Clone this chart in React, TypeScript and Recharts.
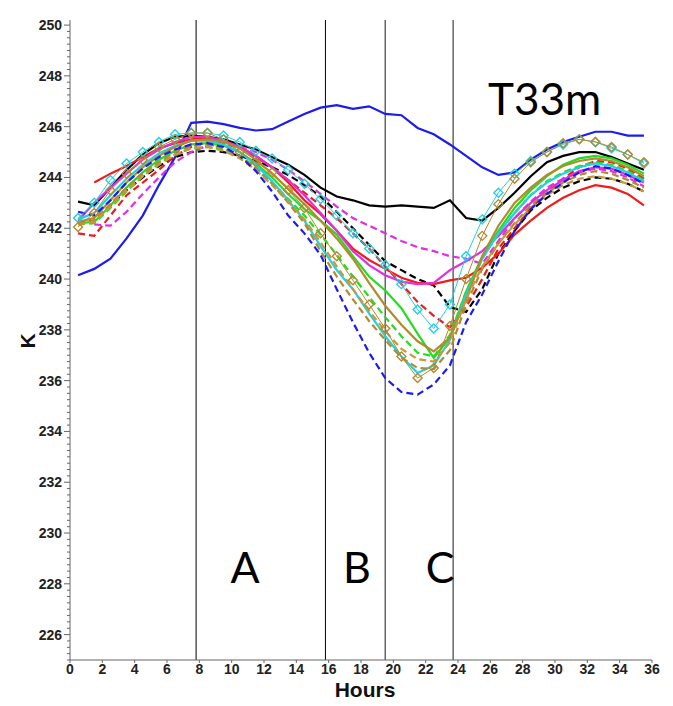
import React from "react";
import { LineChart, Line, XAxis, YAxis, ReferenceLine } from "recharts";

// hourly samples, mid-hour
const hours = [
  0.5, 1.5, 2.5, 3.5, 4.5, 5.5, 6.5, 7.5, 8.5, 9.5, 10.5, 11.5,
  12.5, 13.5, 14.5, 15.5, 16.5, 17.5, 18.5, 19.5, 20.5, 21.5, 22.5, 23.5,
  24.5, 25.5, 26.5, 27.5, 28.5, 29.5, 30.5, 31.5, 32.5, 33.5, 34.5, 35.5,
];

const blueSolid = [
  240.15, 240.4, 240.8, 241.6, 242.5, 243.7, 244.8, 246.15, 246.2, 246.1, 245.95, 245.85,
  245.9, 246.2, 246.5, 246.75, 246.85, 246.7, 246.8, 246.5, 246.45, 245.95, 245.7, 245.3,
  244.85, 244.4, 244.1, 244.2, 244.7, 245.1, 245.4, 245.6, 245.8, 245.8, 245.65, 245.65,
];
const blackSolid = [
  243.05, 242.9, 243.6, 244.3, 244.9, 245.35, 245.6, 245.65, 245.6, 245.5, 245.3, 245.1,
  244.8, 244.5, 244.1, 243.6, 243.25, 243.1, 242.9, 242.85, 242.9, 242.85, 242.8, 243.1,
  242.4, 242.3, 242.8, 243.4, 244.05, 244.6, 244.85, 245.0, 245.0, 244.8, 244.55, 244.3,
];
const blackDashed = [
  242.2, 242.3, 242.9, 243.5, 244.0, 244.45, 244.8, 245.0, 245.05, 245.0, 244.85, 244.65,
  244.4, 244.1, 243.7, 243.25, 242.65, 242.0, 241.35, 240.7, 240.35, 240.0, 239.75, 238.9,
  238.7, 239.6, 241.0, 241.9, 242.7, 243.2, 243.6, 243.85, 244.0, 243.95, 243.75, 243.45,
];
const redSolid = [
  null, 243.8, 244.15, 244.45, 244.8, 245.15, 245.35, 245.5, 245.55, 245.45, 245.2, 244.85,
  244.4, 243.8, 243.1, 242.55, 241.9, 241.2, 240.75, 240.4, 240.05, 239.85, 239.8, 239.95,
  240.05, 240.45, 241.0, 241.75, 242.3, 242.8, 243.2, 243.5, 243.7, 243.6, 243.35, 242.9,
];
const redDashed = [
  241.8, 241.7, 242.5, 243.3, 243.8, 244.3, 244.85, 245.2, 245.4, 245.35, 245.15, 244.8,
  244.4, 243.9, 243.4, 242.9, 242.4, 241.8, 241.2, 240.5, 239.8, 239.1, 238.55, 238.1,
  238.9, 240.0, 241.2, 242.0, 242.8, 243.4, 243.95, 244.4, 244.65, 244.6, 244.35, 243.95,
];
const magentaSolid = [
  242.3, 243.0, 243.6, 244.15, 244.7, 245.1, 245.4, 245.6, 245.6, 245.45, 245.2, 244.85,
  244.4, 243.9, 243.3, 242.6, 241.9, 241.1, 240.55, 240.15, 239.9, 239.8, 239.85, 240.35,
  240.7, 241.1, 241.7, 242.4, 243.0, 243.5, 243.9, 244.25, 244.4, 244.35, 244.1, 243.8,
];
const magentaDashed = [
  null, 242.15, 242.1, 242.65, 243.35, 244.0, 244.6, 245.0, 245.25, 245.3, 245.2, 245.0,
  244.7, 244.3, 243.85, 243.35, 242.85, 242.4, 242.1, 241.8, 241.5, 241.25, 241.1, 240.9,
  240.8, 240.6, 241.5, 242.4, 243.05, 243.6, 243.95, 244.2, 244.35, 244.25, 244.0, 243.65,
];
const greenSolid = [
  242.2, 242.25, 242.9, 243.6, 244.2, 244.7, 245.05, 245.3, 245.35, 245.25, 245.0, 244.55,
  244.0, 243.35, 242.75, 242.3, 241.75, 240.9, 240.1, 239.55, 238.85, 237.85, 236.9, 237.7,
  239.5, 240.9, 241.9, 242.8, 243.5, 244.05, 244.5, 244.75, 244.85, 244.75, 244.5, 244.15,
];
const greenDashed = [
  242.15, 242.2, 242.8, 243.45, 244.05, 244.55, 244.9, 245.15, 245.2, 245.1, 244.85, 244.4,
  243.8, 243.15, 242.5, 241.75, 240.95, 240.1, 239.3, 238.5, 237.75, 237.1, 236.95, 237.8,
  239.5, 240.8, 241.8, 242.6, 243.3, 243.85, 244.2, 244.45, 244.6, 244.5, 244.25, 243.9,
];
const cyanSolid = [
  242.35, 242.6, 243.3, 243.95, 244.5, 244.95, 245.25, 245.45, 245.45, 245.3, 245.0, 244.5,
  243.85, 243.1, 242.3, 241.3, 240.35, 239.6, 238.65, 237.75, 236.95, 236.3, 236.6, 237.6,
  239.4, 240.8, 241.8, 242.6, 243.3, 243.8, 244.15, 244.4, 244.55, 244.45, 244.2, 243.85,
];
const oliveSolid = [
  242.25, 242.4, 243.1, 243.8, 244.4, 244.85, 245.2, 245.45, 245.5, 245.4, 245.15, 244.7,
  244.15, 243.55, 242.95, 242.3, 241.6, 240.8, 239.85, 238.95, 238.2, 237.55, 237.15, 237.7,
  239.2, 240.9, 242.1, 243.0, 243.6, 244.1, 244.45, 244.65, 244.75, 244.65, 244.4, 244.05,
];
const oliveDashed = [
  242.2, 242.3, 242.95, 243.6, 244.15, 244.6, 245.0, 245.25, 245.3, 245.15, 244.85, 244.35,
  243.75, 243.0, 242.2, 241.1, 240.1, 239.2, 238.35, 237.6, 236.9, 236.5, 236.45, 237.2,
  239.0, 240.4, 241.4, 242.2, 242.9, 243.4, 243.8, 244.1, 244.25, 244.15, 243.9, 243.6,
];
const oliveDashed2 = [
  242.15, 242.25, 242.85, 243.5, 244.05, 244.5, 244.9, 245.15, 245.2, 245.05, 244.75, 244.3,
  243.7, 243.05, 242.35, 241.45, 240.5, 239.6, 238.75, 237.95, 237.25, 236.85, 236.75, 237.5,
  239.2, 240.5, 241.4, 242.15, 242.8, 243.3, 243.7, 243.95, 244.05, 243.95, 243.75, 243.45,
];
const blueDashed = [
  242.65, 242.5, 243.1, 243.8, 244.35, 244.8, 245.1, 245.3, 245.35, 245.2, 244.85, 244.25,
  243.45, 242.5, 241.8, 240.95, 239.6, 238.3, 237.1, 236.1, 235.55, 235.45, 235.85, 236.6,
  238.3, 239.4, 240.7, 241.9, 242.75, 243.35, 243.8, 244.2, 244.45, 244.35, 244.1, 243.75,
];
const cyanDiamond = [
  242.4, 243.0, 243.9, 244.55, 245.0, 245.4, 245.7, 245.75, 245.75, 245.65, 245.4, 245.05,
  244.75, 244.3, 243.75, 243.15, 242.5, 241.8, 241.2, 240.55, 239.8, 238.8, 238.05, 239.0,
  240.9, 242.35, 243.4, 244.15, 244.65, 245.0, 245.3, 245.5, 245.4, 245.15, 244.9, 244.55,
];
const oliveDiamond = [
  242.05, 242.6, 243.5, 244.15, 244.7, 245.2, 245.5, 245.75, 245.75, 245.5, 245.0, 244.6,
  244.2, 243.5, 242.8, 241.8, 240.9, 239.95, 239.0, 238.05, 236.95, 236.1, 236.5, 238.15,
  240.0, 241.7, 242.95, 243.95, 244.6, 245.0, 245.35, 245.5, 245.4, 245.2, 244.9, 244.6,
];

const xTicks = [0, 2, 4, 6, 8, 10, 12, 14, 16, 18, 20, 22, 24, 26, 28, 30, 32, 34, 36];
const yLabels = [226, 228, 230, 232, 234, 236, 238, 240, 242, 244, 246, 248, 250];
const periodLines = [7.8, 15.8, 19.5, 23.7];
const periodNames = ["A", "B", "C"];

const BLUE = "#1c1cf0";
const RED = "#f01c1c";
const MAGENTA = "#e02ee0";
const GREEN = "#22dd22";
const CYAN = "#22d0e0";
const OLIVE = "#b38a2e";

type Series = {
  key: string;
  values: (number | null)[];
  color: string;
  dash?: string;
  width?: number;
  diamond?: boolean;
};

const series: Series[] = [
  { key: "blueSolid", values: blueSolid, color: BLUE },
  { key: "blackSolid", values: blackSolid, color: "#000" },
  { key: "blackDashed", values: blackDashed, color: "#000", dash: "7 4" },
  { key: "redSolid", values: redSolid, color: RED },
  { key: "redDashed", values: redDashed, color: RED, dash: "7 4" },
  { key: "magentaSolid", values: magentaSolid, color: MAGENTA },
  { key: "magentaDashed", values: magentaDashed, color: MAGENTA, dash: "7 4" },
  { key: "greenSolid", values: greenSolid, color: GREEN },
  { key: "greenDashed", values: greenDashed, color: GREEN, dash: "7 4" },
  { key: "cyanSolid", values: cyanSolid, color: CYAN },
  { key: "oliveSolid", values: oliveSolid, color: OLIVE },
  { key: "oliveDashed", values: oliveDashed, color: OLIVE, dash: "7 4" },
  { key: "oliveDashed2", values: oliveDashed2, color: "#c49a3c", dash: "7 4" },
  { key: "blueDashed", values: blueDashed, color: BLUE, dash: "7 4" },
  { key: "cyanDiamond", values: cyanDiamond, color: CYAN, width: 1, diamond: true },
  { key: "oliveDiamond", values: oliveDiamond, color: OLIVE, width: 1, diamond: true },
];

const rows = hours.map((h, i) => {
  const row: Record<string, number | null> = { h };
  series.forEach((s) => {
    row[s.key] = s.values[i];
  });
  return row;
});

// major ticks carry labels, the quarter steps in between are short marks only
const yTicks: number[] = [];
for (let v = 225; v <= 250.001; v += 0.25) yTicks.push(Math.round(v * 100) / 100);

const YTick = (props: any) => {
  const { x, y, payload } = props;
  const v = payload.value;
  const major = yLabels.includes(v);
  return (
    <g>
      <line x1={major ? x + 2 : x + 5} x2={x + 8} y1={y} y2={y} stroke="#666" strokeWidth={1} />
      {major && (
        <text x={x} y={y} dy={5} textAnchor="end" fontSize={14} fontWeight="bold" fill="#222"
          fontFamily="Liberation Sans, Arial, sans-serif">
          {v}
        </text>
      )}
    </g>
  );
};

const diamondDot = (color: string) => (props: any) => {
  const { cx, cy, index } = props;
  if (cx == null || cy == null) return <g key={`d-${index}`} />;
  const r = 4.5;
  return (
    <path
      key={`d-${index}`}
      d={`M${cx} ${cy - r} L${cx + r} ${cy} L${cx} ${cy + r} L${cx - r} ${cy} Z`}
      fill="none"
      stroke={color}
      strokeWidth={1.4}
    />
  );
};

export default function App() {
  return (
    <div style={{ position: "absolute", left: 0, top: 0, width: 673, height: 706, background: "#fff" }}>
      <LineChart width={673} height={706} data={rows} margin={{ top: 20, right: 21, bottom: 0, left: 0 }}>
        <XAxis
          dataKey="h"
          type="number"
          domain={[0, 36]}
          ticks={xTicks}
          interval={0}
          height={46}
          tickSize={3}
          tickMargin={1}
          stroke="#666"
          tick={{ fontSize: 14, fontWeight: "bold", fill: "#222", fontFamily: "Liberation Sans, Arial, sans-serif" }}
        />
        <YAxis
          type="number"
          domain={[225, 250.2]}
          ticks={yTicks}
          interval={0}
          width={70}
          tickSize={6}
          tickLine={false}
          stroke="#666"
          tick={<YTick />}
        />
        {periodLines.map((x, i) => (
          <ReferenceLine key={x} x={x} stroke={i < 2 ? "#000" : "#666"} strokeWidth={i < 2 ? 1 : 1.5} />
        ))}
        {series.map((s) => (
          <Line
            key={s.key}
            dataKey={s.key}
            type="linear"
            stroke={s.color}
            strokeWidth={s.width ?? 2.2}
            strokeDasharray={s.dash}
            dot={s.diamond ? diamondDot(s.color) : false}
            activeDot={false}
            isAnimationActive={false}
          />
        ))}
      </LineChart>
      <svg width={673} height={706} style={{ position: "absolute", left: 0, top: 0, pointerEvents: "none" }}>
        <g fontFamily="Lato, 'Open Sans', sans-serif" fontSize={43} fill="#000">
          <text x={245} y={583} textAnchor="middle">{periodNames[0]}</text>
          <text x={357} y={583} textAnchor="middle">{periodNames[1]}</text>
          <text x={440} y={583} textAnchor="middle">{periodNames[2]}</text>
          <text x={488} y={115} fontSize={44}>T33m</text>
        </g>
        <g fontFamily="Liberation Sans, Arial, sans-serif" fontWeight="bold" fontSize={21} fill="#111">
          <text x={365} y={697} textAnchor="middle">Hours</text>
          <text transform="translate(35,341) rotate(-90)" textAnchor="middle">K</text>
        </g>
      </svg>
    </div>
  );
}
